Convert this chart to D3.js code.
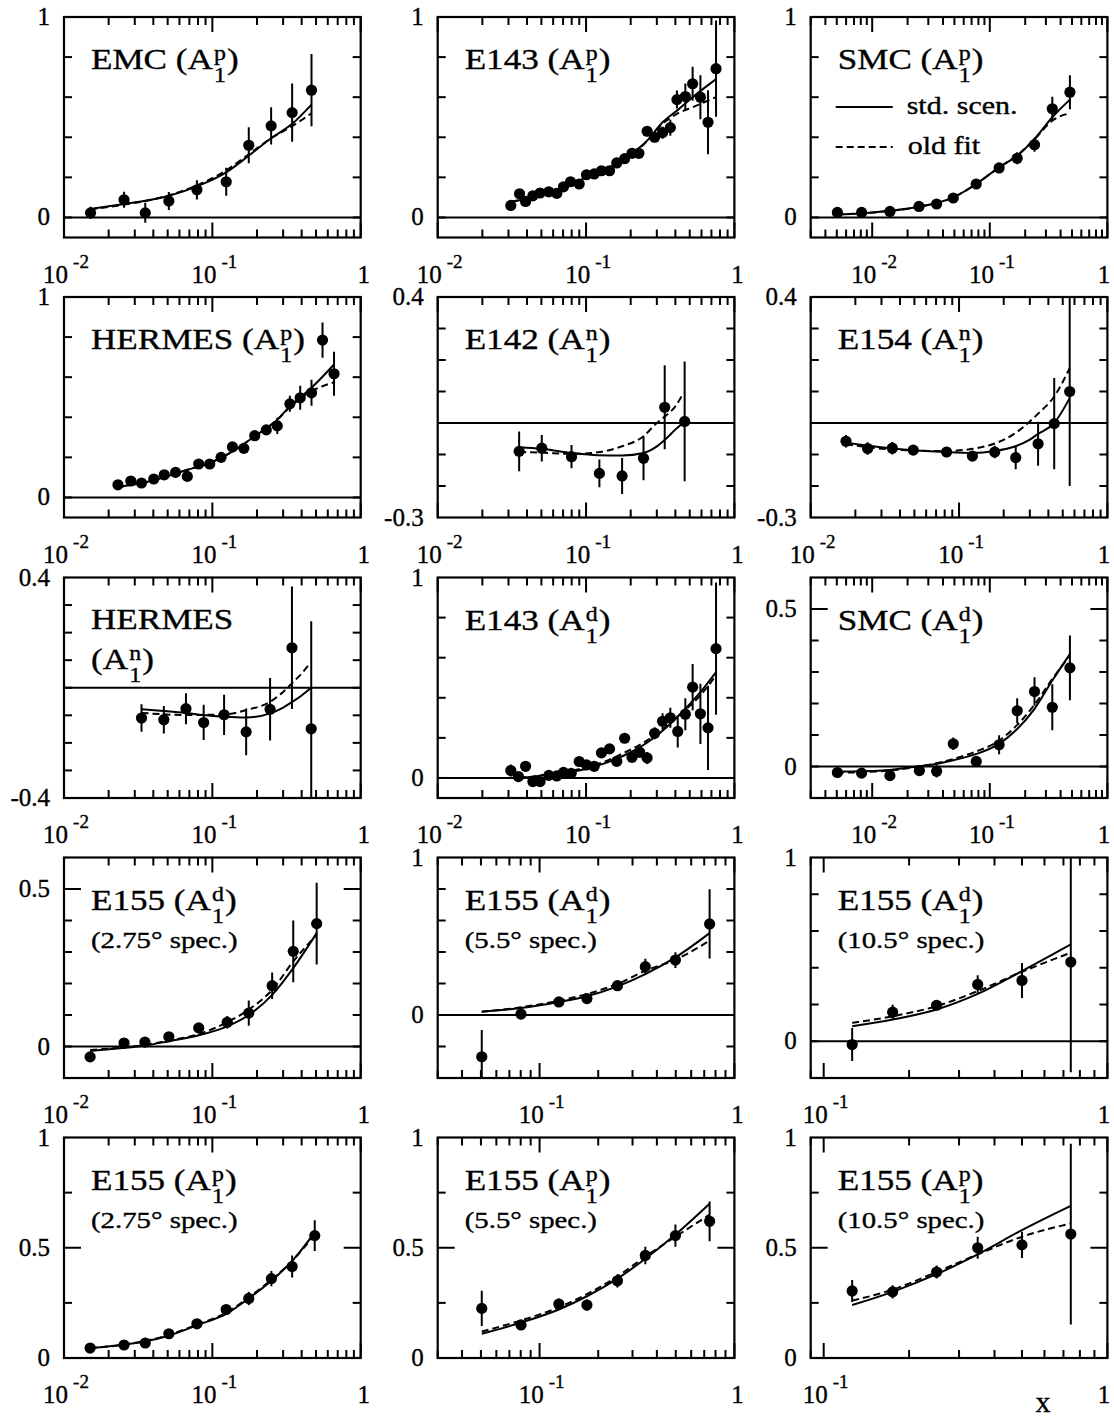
<!DOCTYPE html>
<html><head><meta charset="utf-8">
<script src="https://cdn.jsdelivr.net/npm/d3@7"></script>
<style>body{margin:0;background:#fff}text{font-family:"Liberation Serif","Times New Roman",serif;fill:#000;stroke:#000;stroke-width:0.35px}</style>
</head><body><svg id="c" width="1114" height="1418"></svg>
<script>
// ---------- data ----------
// 1 EMC A1p
const emcX=[0.0151,0.0254,0.0353,0.0509,0.0787,0.124,0.176,0.249,0.345,0.466];
const emcY=[0.023,0.088,0.023,0.082,0.138,0.178,0.36,0.457,0.523,0.635];
const emcE=[0.03,0.04,0.05,0.045,0.048,0.07,0.09,0.093,0.145,0.18];
const emcStdX=[0.015,0.0254,0.0353,0.0509,0.0787,0.124,0.176,0.249,0.345,0.466];
const emcStdY=[0.042,0.067,0.083,0.108,0.155,0.225,0.308,0.395,0.467,0.563];
const emcOldX=emcStdX;
const emcOldY=[0.04,0.064,0.082,0.11,0.16,0.235,0.315,0.395,0.455,0.52];
// 2 E143 A1p
const e143pX=[0.0311,0.0356,0.0391,0.0438,0.049,0.0561,0.0635,0.0705,0.0786,0.0899,0.1007,0.1135,0.127,0.144,0.161,0.182,0.204,0.227,0.258,0.29,0.328,0.37,0.41,0.467,0.523,0.59,0.664,0.752];
const e143pY=[0.06,0.118,0.08,0.108,0.122,0.128,0.12,0.153,0.178,0.167,0.213,0.217,0.233,0.233,0.272,0.293,0.32,0.32,0.43,0.40,0.423,0.448,0.588,0.603,0.667,0.6,0.475,0.742];
const e143pE=[0.027,0.02,0.015,0.015,0.015,0.015,0.015,0.015,0.015,0.015,0.015,0.015,0.015,0.015,0.015,0.015,0.015,0.02,0.025,0.025,0.03,0.04,0.045,0.065,0.085,0.11,0.16,0.24];
const e143pStdX=[0.0311,0.039,0.0635,0.1,0.161,0.258,0.328,0.41,0.523,0.752];
const e143pStdY=[0.078,0.092,0.137,0.2,0.27,0.383,0.475,0.533,0.6,0.69];
const e143pOldX=e143pStdX;
const e143pOldY=[0.078,0.092,0.137,0.2,0.27,0.38,0.467,0.517,0.55,0.6];
// 3 SMC A1p
const smcpX=[0.00506,0.00813,0.01415,0.025,0.0353,0.0489,0.0767,0.12,0.171,0.24,0.34,0.48];
const smcpY=[0.025,0.025,0.03,0.055,0.067,0.097,0.167,0.247,0.295,0.363,0.542,0.625];
const smcpE=[0.01,0.01,0.01,0.012,0.015,0.015,0.015,0.02,0.03,0.035,0.06,0.085];
const smcpStdX=[0.005,0.00813,0.01415,0.025,0.0489,0.0767,0.12,0.171,0.24,0.34,0.48];
const smcpStdY=[0.015,0.02,0.033,0.053,0.1,0.167,0.25,0.308,0.392,0.5,0.588];
const smcpOldX=smcpStdX;
const smcpOldY=[0.015,0.02,0.033,0.053,0.1,0.167,0.25,0.31,0.39,0.483,0.52];
// 4 HERMES A1p
const herpX=[0.0231,0.0282,0.0333,0.0403,0.0474,0.0565,0.0678,0.0809,0.096,0.1145,0.1365,0.163,0.193,0.231,0.274,0.333,0.391,0.466,0.553,0.661];
const herpY=[0.063,0.082,0.072,0.092,0.113,0.125,0.105,0.167,0.167,0.2,0.252,0.245,0.308,0.337,0.357,0.467,0.497,0.522,0.785,0.617];
const herpE=[0.012,0.012,0.012,0.012,0.012,0.012,0.015,0.015,0.015,0.015,0.015,0.02,0.02,0.025,0.04,0.04,0.06,0.065,0.088,0.11];
const herpStdX=[0.0231,0.04,0.068,0.096,0.137,0.193,0.274,0.333,0.466,0.661];
const herpStdY=[0.052,0.085,0.138,0.172,0.23,0.305,0.388,0.455,0.547,0.663];
const herpOldX=[0.0231,0.04,0.068,0.096,0.137,0.193,0.274,0.333,0.466,0.553,0.661];
const herpOldY=[0.052,0.085,0.138,0.172,0.23,0.305,0.388,0.45,0.53,0.555,0.575];
// 5 E142 A1n
const e142X=[0.0354,0.0503,0.0798,0.123,0.175,0.244,0.339,0.462];
const e142Y=[-0.09,-0.08,-0.107,-0.16,-0.168,-0.112,0.05,0.005];
const e142E=[0.063,0.042,0.037,0.044,0.057,0.07,0.133,0.19];
const e142StdX=[0.0354,0.05,0.08,0.12,0.175,0.244,0.3,0.34,0.4,0.462];
const e142StdY=[-0.077,-0.082,-0.095,-0.102,-0.103,-0.095,-0.074,-0.053,-0.021,0.005];
const e142OldX=[0.0354,0.05,0.08,0.12,0.175,0.244,0.3,0.34,0.4,0.44];
const e142OldY=[-0.092,-0.094,-0.098,-0.093,-0.074,-0.042,0,0.021,0.053,0.084];
// 6 E154 A1n
const e154X=[0.0173,0.0242,0.0355,0.0491,0.0824,0.123,0.174,0.241,0.341,0.438,0.557];
const e154Y=[-0.058,-0.081,-0.08,-0.086,-0.092,-0.105,-0.092,-0.11,-0.066,-0.002,0.1];
const e154E=[0.02,0.02,0.02,0.015,0.012,0.01,0.02,0.037,0.07,0.145,0.3];
const e154StdX=[0.0173,0.0355,0.08,0.123,0.174,0.24,0.3,0.34,0.438,0.557];
const e154StdY=[-0.063,-0.081,-0.092,-0.095,-0.089,-0.074,-0.053,-0.035,0.0,0.079];
const e154OldX=e154StdX;
const e154OldY=[-0.068,-0.084,-0.089,-0.082,-0.065,-0.032,0.005,0.029,0.084,0.174];
// 7 HERMES A1n
const hernX=[0.0333,0.0471,0.0664,0.0874,0.12,0.169,0.245,0.344,0.464];
const hernY=[-0.11,-0.116,-0.076,-0.126,-0.098,-0.16,-0.078,0.145,-0.149];
const hernE=[0.05,0.05,0.056,0.064,0.073,0.085,0.113,0.222,0.39];
const hernStdX=[0.0333,0.047,0.066,0.087,0.12,0.169,0.245,0.3,0.344,0.4,0.464];
const hernStdY=[-0.078,-0.084,-0.091,-0.099,-0.105,-0.108,-0.093,-0.072,-0.052,-0.028,0];
const hernOldX=[0.0333,0.066,0.12,0.169,0.245,0.3,0.344,0.4,0.45];
const hernOldY=[-0.091,-0.099,-0.097,-0.081,-0.051,-0.015,0.016,0.052,0.085];
// 8 E143 A1d
const e143dX=[0.0311,0.035,0.0391,0.0438,0.049,0.0561,0.0635,0.0705,0.0794,0.0899,0.1007,0.1135,0.127,0.144,0.161,0.182,0.204,0.23,0.258,0.29,0.328,0.37,0.415,0.467,0.523,0.59,0.664,0.752];
const e143dY=[0.037,0.007,0.058,-0.018,-0.018,0.013,0.01,0.028,0.023,0.082,0.065,0.058,0.125,0.145,0.083,0.198,0.103,0.128,0.1,0.223,0.283,0.3,0.232,0.318,0.453,0.32,0.25,0.645];
const e143dE=[0.03,0.015,0.015,0.015,0.015,0.015,0.015,0.015,0.015,0.015,0.015,0.015,0.015,0.015,0.015,0.015,0.015,0.02,0.03,0.03,0.04,0.05,0.08,0.08,0.115,0.15,0.21,0.33];
const e143dStdX=[0.035,0.04,0.05,0.07,0.1,0.13,0.18,0.23,0.29,0.37,0.467,0.59,0.752];
const e143dStdY=[0.005,0.003,0.012,0.025,0.045,0.07,0.112,0.153,0.203,0.27,0.345,0.428,0.528];
const e143dOldX=e143dStdX;
const e143dOldY=[0.005,0.004,0.014,0.03,0.052,0.078,0.125,0.165,0.212,0.275,0.34,0.412,0.512];
// 9 SMC A1d
const smcdX=[0.00506,0.00813,0.01415,0.0252,0.0353,0.0489,0.0767,0.12,0.171,0.24,0.34,0.48];
const smcdY=[-0.019,-0.021,-0.029,-0.013,-0.015,0.072,0.016,0.069,0.177,0.238,0.188,0.313];
const smcdE=[0.008,0.008,0.008,0.015,0.02,0.02,0.015,0.03,0.04,0.045,0.073,0.103];
const smcdStdX=[0.005,0.00813,0.01415,0.025,0.035,0.049,0.077,0.12,0.171,0.24,0.34,0.48];
const smcdStdY=[-0.016,-0.015,-0.011,0.001,0.008,0.02,0.04,0.072,0.119,0.183,0.273,0.357];
const smcdOldX=smcdStdX;
const smcdOldY=[-0.02,-0.018,-0.013,0,0.01,0.024,0.048,0.082,0.132,0.196,0.278,0.352];
// 10 E155 A1d 2.75
const d275X=[0.015,0.0254,0.0351,0.0509,0.0809,0.126,0.176,0.253,0.351,0.505];
const d275Y=[-0.033,0.011,0.014,0.031,0.059,0.077,0.106,0.193,0.302,0.39];
const d275E=[0.008,0.008,0.008,0.01,0.012,0.02,0.04,0.042,0.098,0.13];
const d275StdX=[0.015,0.025,0.035,0.05,0.08,0.126,0.176,0.253,0.351,0.505];
const d275StdY=[-0.014,-0.005,0.003,0.016,0.035,0.064,0.1,0.164,0.249,0.36];
const d275OldX=d275StdX;
const d275OldY=[-0.011,-0.003,0.005,0.018,0.039,0.077,0.117,0.18,0.27,0.355];
// 11 E155 A1d 5.5
const d55X=[0.0505,0.0803,0.1256,0.175,0.251,0.349,0.498,0.746];
const d55Y=[-0.265,0.006,0.083,0.104,0.186,0.307,0.349,0.578];
const d55E=[0.17,0.012,0.015,0.02,0.02,0.05,0.05,0.22];
const d55StdX=[0.0505,0.08,0.1256,0.175,0.251,0.349,0.498,0.746];
const d55StdY=[0.021,0.044,0.083,0.119,0.182,0.26,0.366,0.52];
const d55OldX=d55StdX;
const d55OldY=[0.021,0.049,0.091,0.133,0.197,0.281,0.351,0.472];
// 12 E155 A1d 10.5
const d105X=[0.126,0.175,0.25,0.349,0.5,0.743];
const d105Y=[-0.018,0.158,0.196,0.309,0.331,0.431];
const d105E=[0.09,0.04,0.02,0.05,0.095,0.6];
const d105StdX=[0.126,0.175,0.25,0.349,0.5,0.743];
const d105StdY=[0.082,0.118,0.173,0.258,0.382,0.527];
const d105OldX=d105StdX;
const d105OldY=[0.1,0.136,0.191,0.273,0.378,0.482];
// 13 E155 A1p 2.75
const p275X=[0.015,0.0254,0.0353,0.0509,0.0787,0.124,0.176,0.25,0.345,0.49];
const p275Y=[0.045,0.059,0.068,0.11,0.155,0.22,0.27,0.36,0.415,0.555];
const p275E=[0.01,0.01,0.012,0.012,0.015,0.02,0.03,0.035,0.05,0.07];
const p275StdX=[0.015,0.025,0.035,0.05,0.08,0.124,0.176,0.25,0.345,0.49];
const p275StdY=[0.045,0.06,0.075,0.1,0.15,0.2,0.27,0.35,0.44,0.57];
const p275OldX=p275StdX;
const p275OldY=[0.045,0.06,0.077,0.103,0.153,0.205,0.275,0.355,0.44,0.56];
// 14 E155 A1p 5.5
const p55X=[0.0505,0.0803,0.1256,0.175,0.251,0.349,0.498,0.746];
const p55Y=[0.225,0.15,0.245,0.24,0.35,0.465,0.555,0.62];
const p55E=[0.08,0.02,0.025,0.025,0.03,0.04,0.05,0.09];
const p55StdX=[0.0505,0.08,0.1256,0.175,0.251,0.349,0.498,0.746];
const p55StdY=[0.11,0.16,0.22,0.28,0.36,0.45,0.56,0.7];
const p55OldX=p55StdX;
const p55OldY=[0.12,0.17,0.23,0.29,0.37,0.46,0.55,0.65];
// 15 E155 A1p 10.5
const p105X=[0.126,0.175,0.25,0.349,0.5,0.743];
const p105Y=[0.304,0.3,0.39,0.5,0.513,0.562];
const p105E=[0.05,0.03,0.03,0.05,0.06,0.41];
const p105StdX=[0.126,0.175,0.25,0.349,0.5,0.743];
const p105StdY=[0.24,0.3,0.38,0.47,0.58,0.69];
const p105OldX=p105StdX;
const p105OldY=[0.26,0.31,0.39,0.47,0.55,0.61];

// panel titles
const titleMain=["EMC","E143","SMC","HERMES","E142","E154","HERMES","E143","SMC","E155","E155","E155","E155","E155","E155"];
const titleSup=["p","p","p","p","n","n","n","d","d","d","d","d","p","p","p"];
const titleSub2=["","","","","","","","","","(2.75° spec.)","(5.5° spec.)","(10.5° spec.)","(2.75° spec.)","(5.5° spec.)","(10.5° spec.)"];
// axes
const xDomains=[[0.01,1],[0.01,1],[0.003,1],[0.01,1],[0.01,1],[0.01,1],[0.01,1],[0.01,1],[0.003,1],[0.01,1],[0.03,1],[0.09,1],[0.01,1],[0.03,1],[0.09,1]];
const yDomains=[[-0.1,1],[-0.1,1],[-0.1,1],[-0.1,1],[-0.3,0.4],[-0.3,0.4],[-0.4,0.4],[-0.1,1],[-0.1,0.6],[-0.1,0.6],[-0.4,1],[-0.2,1],[0,1],[0,1],[0,1]];
const yStep=[0.2,0.2,0.2,0.2,0.1,0.1,0.1,0.2,0.1,0.1,0.2,0.2,0.25,0.25,0.25];
const yLabels=[["0","1"],["0","1"],["0","1"],["0","1"],["-0.3","0.4"],["-0.3","0.4"],["-0.4","0.4"],["0","1"],["0","0.5"],["0","0.5"],["0","1"],["0","1"],["0","0.5","1"],["0","0.5","1"],["0","0.5","1"]];
const yMajor=[[],[],[],[],[],[],[],[],[0.5],[0.5],[],[],[0.5],[0.5],[0.5]];
const legendLabels=["std. scen.","old fit"];
const axisLabel="x";

const seriesX=[emcX,e143pX,smcpX,herpX,e142X,e154X,hernX,e143dX,smcdX,d275X,d55X,d105X,p275X,p55X,p105X];
const seriesY=[emcY,e143pY,smcpY,herpY,e142Y,e154Y,hernY,e143dY,smcdY,d275Y,d55Y,d105Y,p275Y,p55Y,p105Y];
const seriesE=[emcE,e143pE,smcpE,herpE,e142E,e154E,hernE,e143dE,smcdE,d275E,d55E,d105E,p275E,p55E,p105E];
const stdX=[emcStdX,e143pStdX,smcpStdX,herpStdX,e142StdX,e154StdX,hernStdX,e143dStdX,smcdStdX,d275StdX,d55StdX,d105StdX,p275StdX,p55StdX,p105StdX];
const stdY=[emcStdY,e143pStdY,smcpStdY,herpStdY,e142StdY,e154StdY,hernStdY,e143dStdY,smcdStdY,d275StdY,d55StdY,d105StdY,p275StdY,p55StdY,p105StdY];
const oldX=[emcOldX,e143pOldX,smcpOldX,herpOldX,e142OldX,e154OldX,hernOldX,e143dOldX,smcdOldX,d275OldX,d55OldX,d105OldX,p275OldX,p55OldX,p105OldX];
const oldY=[emcOldY,e143pOldY,smcpOldY,herpOldY,e142OldY,e154OldY,hernOldY,e143dOldY,smcdOldY,d275OldY,d55OldY,d105OldY,p275OldY,p55OldY,p105OldY];

// ---------- layout ----------
const colLeft=[64,437.7,810.7], colW=296.7;
const rowTop=[17,297,577.5,857.5,1137.5], rowH=220.5;
const TICKFS=25, TITLEFS=30, TSX=1.17;

const svg=d3.select("#c");
const defs=svg.append("defs");

// title "NAME (A^s_1)" as one text element with stacked super/subscript
function drawTitle(g,x,y,main,sup,fs,sx){
  const t=g.append("text").attr("transform",`translate(${x},${y}) scale(${sx},1)`).attr("font-size",fs);
  const m=t.append("tspan").attr("x",0).attr("y",0).text(main);
  const w=m.node().getComputedTextLength();
  const sfs=fs*0.68;
  const a=t.append("tspan").attr("x",w+1).attr("y",-9).attr("font-size",sfs).text(sup);
  const b=t.append("tspan").attr("x",w+1).attr("y",13).attr("font-size",sfs).text("1");
  const w2=Math.max(a.node().getComputedTextLength(),b.node().getComputedTextLength());
  t.append("tspan").attr("x",w+w2+2).attr("y",0).text(")");
}

for(let i=0;i<15;i++){
  const r=Math.floor(i/3), c=i%3;
  const L=colLeft[c], T=rowTop[r], W=colW, H=rowH;
  const x=d3.scaleLog().domain(xDomains[i]).range([L,L+W]);
  const y=d3.scaleLinear().domain(yDomains[i]).range([T+H,T]);
  const g=svg.append("g");
  const cid="clip"+i;
  defs.append("clipPath").attr("id",cid).append("rect").attr("x",L).attr("y",T).attr("width",W).attr("height",H);
  const inner=g.append("g").attr("clip-path",`url(#${cid})`);

  // zero line
  const [y0,y1]=yDomains[i];
  if(y0<0&&y1>0){
    inner.append("line").attr("x1",L).attr("x2",L+W).attr("y1",y(0)).attr("y2",y(0)).attr("stroke","#000").attr("stroke-width",2);
  }
  // fit curves
  const line=d3.line().x(d=>x(d[0])).y(d=>y(d[1])).curve(d3.curveMonotoneX);
  inner.append("path").attr("d",line(stdX[i].map((v,k)=>[v,stdY[i][k]]))).attr("fill","none").attr("stroke","#000").attr("stroke-width",2);
  inner.append("path").attr("d",line(oldX[i].map((v,k)=>[v,oldY[i][k]]))).attr("fill","none").attr("stroke","#000").attr("stroke-width",2).attr("stroke-dasharray","7,4");
  // data
  const pts=seriesX[i].map((v,k)=>({x:v,y:seriesY[i][k],e:seriesE[i][k]}));
  inner.selectAll(".eb").data(pts).join("line").attr("x1",d=>x(d.x)).attr("x2",d=>x(d.x))
    .attr("y1",d=>y(d.y-d.e)).attr("y2",d=>y(d.y+d.e)).attr("stroke","#000").attr("stroke-width",2);
  inner.selectAll(".pt").data(pts).join("circle").attr("cx",d=>x(d.x)).attr("cy",d=>y(d.y)).attr("r",5.6).attr("fill","#000");

  // frame
  g.append("rect").attr("x",L).attr("y",T).attr("width",W).attr("height",H).attr("fill","none").attr("stroke","#000").attr("stroke-width",2.2);

  // x ticks
  const [xa,xb]=xDomains[i];
  const e0=Math.floor(Math.log10(xa)), e1=Math.ceil(Math.log10(xb));
  for(let e=e0;e<=e1;e++){
    for(let m=1;m<10;m++){
      const v=m*Math.pow(10,e);
      if(v<xa*0.999||v>xb*1.001) continue;
      const len=(m===1)?15:8, px=x(v);
      g.append("line").attr("x1",px).attr("x2",px).attr("y1",T+H).attr("y2",T+H-len).attr("stroke","#000").attr("stroke-width",2);
      g.append("line").attr("x1",px).attr("x2",px).attr("y1",T).attr("y2",T+len).attr("stroke","#000").attr("stroke-width",2);
      if(m===1){
        const t=g.append("text").attr("y",T+H+45).attr("text-anchor","middle").attr("font-size",TICKFS);
        if(e===0){ t.attr("x",Math.min(px+3,1104)).text("1"); }
        else { t.attr("x",px+2); t.append("tspan").text("10"); t.append("tspan").attr("dx",5).attr("dy",-15).attr("font-size",19).text(String(e)); }
      }
    }
  }
  // y ticks
  const st=yStep[i];
  const n0=Math.ceil(y0/st-1e-6), n1=Math.floor(y1/st+1e-6);
  for(let n=n0;n<=n1;n++){
    const v=+(n*st).toFixed(3);
    if(Math.abs(v-y0)<1e-6||Math.abs(v-y1)<1e-6) continue;
    const len=yMajor[i].some(m=>Math.abs(m-v)<1e-6)?17:8;
    g.append("line").attr("x1",L).attr("x2",L+len).attr("y1",y(v)).attr("y2",y(v)).attr("stroke","#000").attr("stroke-width",2);
    g.append("line").attr("x1",L+W).attr("x2",L+W-len).attr("y1",y(v)).attr("y2",y(v)).attr("stroke","#000").attr("stroke-width",2);
  }
  yLabels[i].forEach(s=>{
    g.append("text").attr("x",L-14).attr("y",y(+s)+8).attr("text-anchor","end").attr("font-size",TICKFS).text(s);
  });

  // title
  if(i===6){
    g.append("text").attr("transform",`translate(${L+27},${T+51}) scale(${TSX},1)`).attr("font-size",TITLEFS).text(titleMain[i]);
    drawTitle(g,L+27,T+91,"(A",titleSup[i],TITLEFS,TSX);
  } else {
    drawTitle(g,L+27,T+52,titleMain[i]+" (A",titleSup[i],TITLEFS,TSX);
  }
  if(titleSub2[i]){
    g.append("text").attr("transform",`translate(${L+27},${T+90}) scale(1.2,1)`).attr("font-size",24).text(titleSub2[i]);
  }
  // legend in SMC panel
  if(i===2){
    g.append("line").attr("x1",L+25).attr("x2",L+82).attr("y1",T+90).attr("y2",T+90).attr("stroke","#000").attr("stroke-width",2);
    g.append("line").attr("x1",L+25).attr("x2",L+82).attr("y1",T+130).attr("y2",T+130).attr("stroke","#000").attr("stroke-width",2).attr("stroke-dasharray","7,4");
    g.append("text").attr("transform",`translate(${L+96},${T+97}) scale(1.2,1)`).attr("font-size",25).text(legendLabels[0]);
    g.append("text").attr("transform",`translate(${L+97},${T+137}) scale(1.2,1)`).attr("font-size",25).text(legendLabels[1]);
  }
}
svg.append("text").attr("x",1043).attr("y",1412).attr("text-anchor","middle").attr("font-size",30).text(axisLabel);
</script></body></html>
